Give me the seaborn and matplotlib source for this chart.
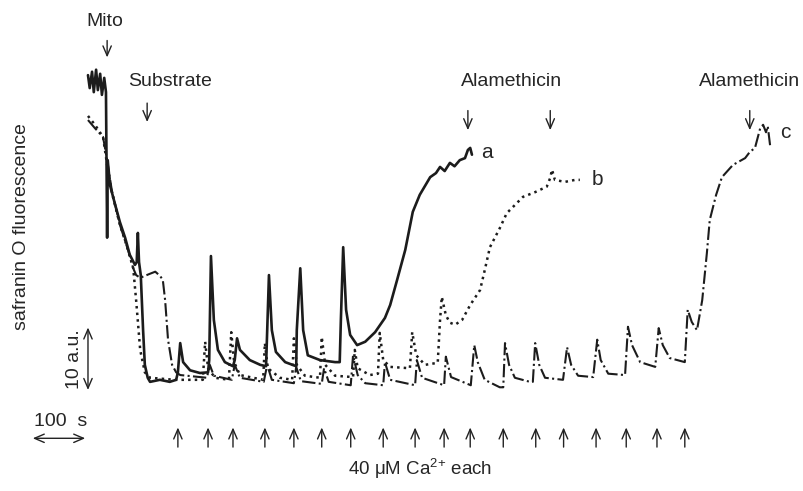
import numpy as np
import pandas as pd
import seaborn as sns
import matplotlib.pyplot as plt

# trace a (solid) - time in s, safranin O fluorescence in a.u.
a_time = [0, 3, 7, 10, 14, 17, 21, 24, 28, 31, 33, 34, 38, 47, 55, 64, 72, 81, 84, 86, 88, 91, 95, 98,
          103, 107, 124, 141, 152, 155, 159, 164, 176, 193, 207, 209, 212, 217, 224, 236, 250, 253, 257,
          262, 279, 297, 307, 309, 312, 317, 324, 340, 359, 360, 366, 371, 379, 400, 426, 434, 436, 440,
          445, 452, 464, 478, 495, 512, 521, 533, 547, 560, 572, 590, 600, 607, 615, 624, 632, 641, 650,
          655, 659, 662]
a_fluo = [46.3, 44.4, 46.8, 43.8, 47.1, 44.1, 46.5, 43.4, 45.9, 43.8, 22.4, 33.8, 30.1, 27.2, 24.7, 22.4,
          19.9, 18.4, 18.8, 23.1, 18.8, 16.9, 8.8, 3.7, 1.8, 1.2, 1.5, 1.2, 1.5, 2.6, 6.9, 4.1, 2.9, 2.5,
          2.6, 4.4, 19.7, 10.3, 5.9, 4.1, 3.5, 4.4, 7.6, 5.9, 4.4, 3.7, 3.5, 8.8, 16.9, 8.8, 5.6, 4.1, 3.5,
          8.8, 17.9, 8.8, 5.1, 4.4, 4.1, 4.1, 10.3, 21.0, 11.8, 8.1, 6.6, 7.1, 8.5, 10.6, 12.5, 16.2, 20.6,
          26.2, 28.7, 31.3, 31.9, 32.8, 32.2, 33.4, 32.9, 33.8, 34.1, 35.3, 35.6, 34.6]

# trace b (dotted)
b_time = [0, 12, 26, 33, 41, 55, 69, 78, 83, 90, 98, 107, 150, 198, 202, 207, 219, 243, 247, 252, 262,
          302, 305, 310, 331, 352, 355, 360, 374, 400, 403, 409, 426, 457, 460, 465, 486, 500, 503, 509,
          521, 555, 559, 566, 581, 603, 607, 610, 617, 624, 633, 645, 659, 676, 684, 693, 710, 722, 736,
          750, 771, 791, 797, 800, 805, 822, 840, 848]
b_fluo = [40.3, 39.0, 37.2, 33.1, 29.1, 24.3, 20.6, 17.9, 13.2, 5.9, 2.6, 1.8, 1.5, 1.5, 7.1, 3.2, 1.8,
          1.5, 8.5, 4.1, 2.2, 1.5, 6.9, 3.2, 1.8, 1.5, 7.6, 3.7, 2.1, 1.8, 7.8, 3.7, 2.1, 1.9, 5.9, 3.2,
          2.2, 2.4, 8.4, 4.4, 3.4, 3.2, 8.5, 5.1, 3.7, 4.0, 10.3, 13.7, 11.0, 9.9, 9.6, 10.3, 12.5, 14.7,
          17.6, 21.0, 23.8, 26.0, 27.2, 28.4, 29.1, 29.9, 31.2, 32.4, 30.9, 30.6, 30.9, 30.9]

# trace c (dash-dot)
c_time = [0, 12, 26, 33, 41, 55, 69, 78, 83, 90, 107, 116, 124, 129, 133, 138, 145, 152, 159, 205, 210,
          217, 248, 253, 262, 303, 309, 317, 355, 359, 367, 403, 407, 415, 453, 457, 465, 478, 509, 512,
          521, 564, 567, 576, 614, 617, 626, 660, 666, 672, 684, 710, 716, 719, 726, 736, 762, 767, 771,
          778, 788, 819, 826, 833, 845, 871, 878, 884, 897, 926, 931, 938, 952, 978, 984, 991, 1003, 1029,
          1034, 1041, 1050, 1059, 1067, 1072, 1083, 1093, 1112, 1133, 1141, 1150, 1159, 1164, 1169, 1172,
          1176]
c_fluo = [39.7, 38.5, 37.2, 33.8, 29.4, 24.3, 20.6, 17.9, 16.9, 16.5, 17.1, 17.4, 16.8, 16.2, 13.2, 7.4,
          3.7, 2.6, 2.2, 1.8, 3.7, 2.1, 1.5, 3.7, 1.8, 1.2, 3.7, 1.5, 1.0, 3.4, 1.3, 0.9, 3.2, 1.2, 0.7,
          5.1, 2.2, 1.0, 0.7, 4.1, 1.5, 0.7, 4.4, 1.8, 0.7, 4.9, 1.9, 0.7, 6.6, 4.1, 1.5, 0.4, 0.4, 6.9,
          3.7, 1.8, 1.2, 1.2, 6.9, 3.7, 1.8, 1.5, 6.3, 3.7, 2.1, 1.9, 7.4, 4.4, 2.4, 2.2, 9.3, 6.6, 4.1,
          3.4, 9.1, 6.6, 4.7, 4.1, 11.8, 10.0, 8.8, 13.2, 20.1, 25.0, 28.7, 31.3, 33.1, 34.1, 35.0, 35.6,
          38.5, 39.0, 37.9, 38.8, 36.0]

# additions (s)
ca_times = [155, 207, 250, 305, 355, 403, 453, 509, 564, 614, 659, 716, 772, 820, 876, 928, 981, 1029]
alam_times = [655, 797, 1141]
mito_time = 33
substrate_time = 102
trace_labels = ["a", "b", "c"]

sns.set_style("white")
plt.rcParams['font.family'] = ['Liberation Sans', 'DejaVu Sans']
plt.rcParams['mathtext.fontset'] = 'custom'
plt.rcParams['mathtext.rm'] = 'Liberation Sans'

fig = plt.figure(figsize=(8.04, 4.91), dpi=100)
ax = fig.add_axes([0, 0, 1, 1])

ink = '#1c1c1c'
df_a = pd.DataFrame({'t': a_time, 'f': a_fluo})
df_b = pd.DataFrame({'t': b_time, 'f': b_fluo})
df_c = pd.DataFrame({'t': c_time, 'f': c_fluo})
sns.lineplot(data=df_a, x='t', y='f', ax=ax, color=ink, lw=1.9, estimator=None, sort=False)
sns.lineplot(data=df_b, x='t', y='f', ax=ax, color=ink, lw=1.8, ls=':', estimator=None, sort=False)
sns.lineplot(data=df_c, x='t', y='f', ax=ax, color=ink, lw=1.5, ls='-.', estimator=None, sort=False)

ax.set_xlim(-151.7, 1234.5)
ax.set_ylim(-14.85, 57.35)
ax.axis('off')

arr = dict(arrowstyle='->,head_length=0.7,head_width=0.3', color='#222222', lw=1.0)
fs = 14

# Ca additions
for t in ca_times:
    ax.annotate('', xy=(t, -5.1), xytext=(t, -8.8), arrowprops=arr)
ax.text(572, -11.5, '40 μM Ca$^{2{+}}$ each', ha='center', va='center', fontsize=fs - 0.5)

# Mito and substrate
ax.annotate('', xy=(mito_time, 48.5), xytext=(mito_time, 51.8), arrowprops=arr)
ax.text(mito_time - 4, 54.2, 'Mito', ha='center', va='center', fontsize=fs)
ax.annotate('', xy=(substrate_time, 39.0), xytext=(substrate_time, 42.6), arrowprops=arr)
ax.text(141, 45.3, 'Substrate', ha='center', va='center', fontsize=fs)

# Alamethicin
for t in alam_times:
    ax.annotate('', xy=(t, 37.8), xytext=(t, 41.5), arrowprops=arr)
ax.text(730, 45.3, 'Alamethicin', ha='center', va='center', fontsize=fs)
ax.text(1140, 45.3, 'Alamethicin', ha='center', va='center', fontsize=fs)

# trace labels
for lab, (tx, fy) in zip(trace_labels, [(688, 34.9), (879, 30.9), (1202, 37.9)]):
    ax.text(tx, fy, lab, ha='center', va='center', fontsize=fs + 1)

# scale bars
bar = dict(arrowstyle='<->,head_length=0.7,head_width=0.3', color='#222222', lw=1.0)
ax.annotate('', xy=(0, 9.6), xytext=(0, -0.4), arrowprops=bar)
ax.text(-22.4, 4.6, '10 a.u.', rotation=90, ha='center', va='center', fontsize=fs)
ax.annotate('', xy=(-100, -7.1), xytext=(0, -7.1), arrowprops=bar)
ax.text(-48, -4.7, '100  s', ha='center', va='center', fontsize=fs)

ax.text(-114, 24.1, 'safranin O fluorescence', rotation=90, ha='center', va='center', fontsize=fs)

fig.savefig('out.png', dpi=100)
